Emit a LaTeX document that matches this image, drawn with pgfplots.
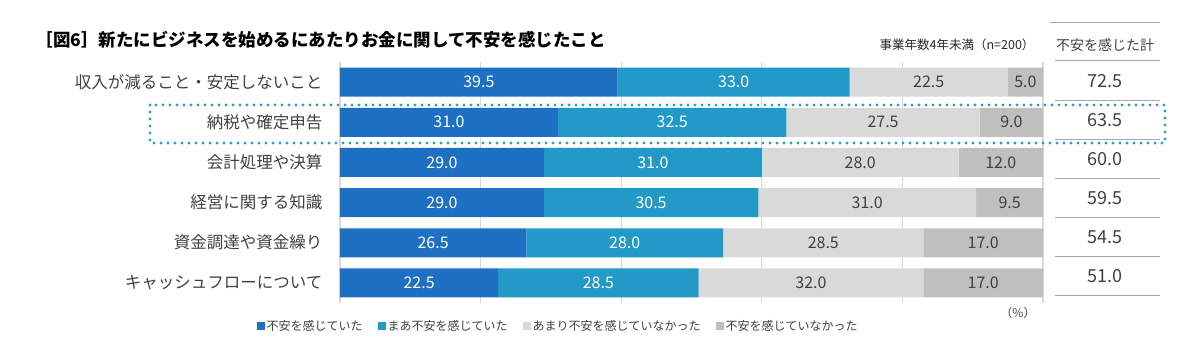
\documentclass[border=0pt]{standalone}
\usepackage{pgfplots}
\pgfplotsset{compat=1.18}
\usepackage{pgfplotstable}
\usepackage{fontspec}
\setmainfont{Noto Sans CJK JP}
\definecolor{cA}{HTML}{1E70C3}
\definecolor{cB}{HTML}{2399C7}
\definecolor{cC}{HTML}{D9D9D9}
\definecolor{cD}{HTML}{BFBFBF}
\definecolor{txt}{HTML}{404040}
\definecolor{dotc}{HTML}{2A9FC9}
\definecolor{linec}{HTML}{A6A6A6}

\pgfplotstableread{
row a b c d t
1 39.5 33.0 22.5 5.0 72.5
2 31.0 32.5 27.5 9.0 63.5
3 29.0 31.0 28.0 12.0 60.0
4 29.0 30.5 31.0 9.5 59.5
5 26.5 28.0 28.5 17.0 54.5
6 22.5 28.5 32.0 17.0 51.0
}\data

\pgfplotsset{
  base/.style={at={(340pt,-303pt)}, anchor=south west,
    scale only axis, width=703pt, height=241pt,
    xmin=0, xmax=100, clip=false},
  lab/.style={only marks, mark=none, nodes near coords,
    every node near coord/.style={anchor=center, text=#1, font=\fontsize{16}{19}\selectfont}},
}

\begin{document}
\begin{tikzpicture}
\useasboundingbox (0,0) rectangle (1200pt,-354pt);

\begin{axis}[base,
  ymin=0.5, ymax=6.5, y dir=reverse,
  xbar stacked, bar width=29pt,
  axis line style={draw=none},
  major tick length=0pt,
  xtick={0,20,...,100}, xticklabels={},
  xmajorgrids, grid style={cC, line width=1.3pt},
  ytick={1,...,6},
  yticklabels={収入が減ること・安定しないこと,納税や確定申告,会計処理や決算,経営に関する知識,資金調達や資金繰り,キャッシュフローについて},
  yticklabel style={font=\fontsize{16.5}{20}\selectfont, text=txt, anchor=east, xshift=-14pt},
  legend style={at={(axis description cs:-0.123,-0.095)}, anchor=west, draw=none, fill=none,
    legend columns=4, font=\fontsize{12}{14}\selectfont, text=txt,
    /tikz/every even column/.append style={column sep=13pt},
    legend cell align=left},
  legend image code/.code={\fill[#1,draw=none] (0pt,-4pt) rectangle (8pt,4pt);},
]
\addplot[fill=cA, draw=none] table[x=a, y=row]{\data};
\addlegendentry{不安を感じていた}
\addplot[fill=cB, draw=none] table[x=b, y=row]{\data};
\addlegendentry{まあ不安を感じていた}
\addplot[fill=cC, draw=none] table[x=c, y=row]{\data};
\addlegendentry{あまり不安を感じていなかった}
\addplot[fill=cD, draw=none] table[x=d, y=row]{\data};
\addlegendentry{不安を感じていなかった}
\end{axis}

% segment labels, centred in each segment
\begin{axis}[base, ymin=0.5, ymax=6.5, y dir=reverse, hide axis,
  point meta=explicit symbolic]
\addplot[lab=white] table[x expr={\thisrow{a}/2}, y=row, meta=a]{\data};
\addplot[lab=white] table[x expr={\thisrow{a}+\thisrow{b}/2}, y=row, meta=b]{\data};
\addplot[lab=txt] table[x expr={\thisrow{a}+\thisrow{b}+\thisrow{c}/2}, y=row, meta=c]{\data};
\addplot[lab=txt] table[x expr={\thisrow{a}+\thisrow{b}+\thisrow{c}+\thisrow{d}/2}, y=row, meta=d]{\data};
\end{axis}

% totals
\begin{axis}[base, ymin=0.513, ymax=6.692, y dir=reverse, hide axis,
  point meta=explicit symbolic]
\addplot[only marks, mark=none, nodes near coords,
  every node near coord/.style={anchor=center, text=txt, font=\fontsize{18}{21}\selectfont}]
  table[x expr=108.8, y=row, meta=t]{\data};
\end{axis}

% total column rules
\draw[linec, line width=1pt] (1050pt,-22pt) -- (1160pt,-22pt);
\draw[linec, line width=1pt] (1055pt,-60pt) -- (1160pt,-60pt);
\foreach \yy in {100.5,139.5,178.5,217.5,256.5,295.5}
  \draw[linec, line width=0.9pt] (1055pt,-\yy pt) -- (1160pt,-\yy pt);

% highlight box
\draw[dotc, line width=3.2pt, line cap=round, dash pattern=on 0pt off 7pt]
  (150pt,-105pt) rectangle (1165pt,-143pt);

% texts
\node[anchor=west, font=\bfseries\fontsize{17.5}{21}\selectfont] at (32pt,-40pt)
  {［図6］新たにビジネスを始めるにあたりお金に関して不安を感じたこと};
\node[anchor=east, font=\fontsize{12.5}{15}\selectfont, text=black!85] at (1038pt,-45pt)
  {事業年数4年未満（n=200）};
\node[font=\fontsize{14}{17}\selectfont, text=txt] at (1105pt,-45pt) {不安を感じた計};
\node[font=\fontsize{12}{14}\selectfont, text=txt] at (1018pt,-313pt) {（\%）};
\end{tikzpicture}
\end{document}
